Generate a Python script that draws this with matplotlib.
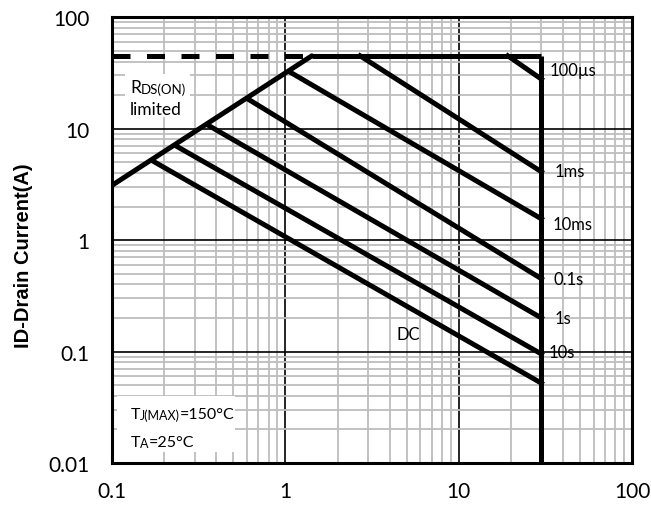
import numpy as np
import matplotlib
matplotlib.use('Agg')
import matplotlib.pyplot as plt
from matplotlib import rcParams
from matplotlib.patches import Rectangle

rcParams['font.family'] = ['Lato', 'DejaVu Sans']

# 极限值
vds_max = 30.0
id_max = 45.0

# RDS(ON) 限制线
rds_v = [0.1, 1.42]
rds_i = [3.1, 45.0]

# 各脉宽曲线: 起点(V, I) 和 终点电流(在 vds_max 处)
pulse_labels = ['100µs', '1ms', '10ms', '0.1s', '1s', '10s', 'DC']
pulse_vstart = [19.2, 2.7, 1.07, 0.61, 0.36, 0.234, 0.173]
pulse_istart = [45.0, 45.0, 32.0, 18.4, 10.7, 7.0, 5.1]
pulse_iend = [27.8, 4.1, 1.55, 0.45, 0.20, 0.095, 0.052]

# 标签位置
label_pos = [(33.2, 33.5), (35.5, 4.16), (35, 1.39), (35, 0.447),
             (35.5, 0.2), (32.8, 0.10), (4.38, 0.144)]

fig = plt.figure(figsize=(6.51, 5.06), dpi=100)
ax = fig.add_axes([0.172, 0.083, 0.799, 0.881])
ax.set_xscale('log')
ax.set_yscale('log')
ax.set_xlim(0.1, 100)
ax.set_ylim(0.01, 100)

ax.grid(True, which='minor', color='#bdbdbd', lw=1.3, zorder=0)
ax.grid(True, which='major', color='black', lw=1.2, zorder=1)
ax.set_axisbelow(True)

lw = 3.6
ax.plot([0.1, rds_v[1]], [id_max, id_max], color='black', lw=lw, dashes=(3.6, 3.3), zorder=3)
ax.plot([rds_v[1], vds_max], [id_max, id_max], color='black', lw=lw, zorder=3,
        solid_capstyle='butt')
ax.plot([vds_max, vds_max], [id_max, 0.01], color='black', lw=lw, zorder=3,
        solid_capstyle='butt')
ax.plot(rds_v, rds_i, color='black', lw=lw, zorder=3, solid_capstyle='round')

for vs, i0, i1 in zip(pulse_vstart, pulse_istart, pulse_iend):
    ax.plot([vs, vds_max], [i0, i1], color='black', lw=lw, zorder=3)

for lab, (lx, ly) in zip(pulse_labels, label_pos):
    ax.text(lx, ly, lab, fontsize=12, ha='left', va='center', zorder=4)

# 白底
ax.add_patch(Rectangle((0.025, 0.776), 0.125, 0.096, transform=ax.transAxes,
                       facecolor='white', edgecolor='none', zorder=2))
ax.add_patch(Rectangle((0.01, 0.025), 0.227, 0.125, transform=ax.transAxes,
                       facecolor='white', edgecolor='none', zorder=2))

# RDS(ON) limited 标注
t1 = ax.text(0.127, 21.5, 'R', fontsize=12.5, ha='left', va='baseline', zorder=4)
ax.annotate('DS(ON)', xy=(1, 0), xycoords=t1, fontsize=9.5, ha='left', va='bottom',
            zorder=4)
ax.text(0.127, 15.0, 'limited', fontsize=12.5, ha='left', va='center', zorder=4)

# 温度条件
t2 = ax.text(0.128, 0.0255, 'T', fontsize=11.5, ha='left', va='baseline', zorder=4)
t3 = ax.annotate('J(MAX)', xy=(1, 0), xycoords=t2, fontsize=9, ha='left', va='bottom',
                 zorder=4)
ax.annotate('=150°C', xy=(1, 0), xycoords=t3, fontsize=11.5, ha='left', va='bottom',
            zorder=4)
t4 = ax.text(0.128, 0.0143, 'T', fontsize=11.5, ha='left', va='baseline', zorder=4)
t5 = ax.annotate('A', xy=(1, 0), xycoords=t4, fontsize=9, ha='left', va='bottom',
                 zorder=4)
ax.annotate('=25°C', xy=(1, 0), xycoords=t5, fontsize=11.5, ha='left', va='bottom',
            zorder=4)

ax.set_xticks([0.1, 1, 10, 100])
ax.set_xticklabels(['0.1', '1', '10', '100'])
ax.set_yticks([0.01, 0.1, 1, 10, 100])
ax.set_yticklabels(['0.01', '0.1', '1', '10', '100'])
ax.tick_params(which='both', length=0, labelsize=15)
ax.tick_params(axis='x', pad=13)
ax.tick_params(axis='y', pad=16)

for s in ax.spines.values():
    s.set_linewidth(2.2)
    s.set_color('black')
    s.set_zorder(5)

fig.text(0.036, 0.494, 'ID-Drain Current(A)', rotation=90, ha='center', va='center',
         fontsize=14.5, fontweight='bold', family='Liberation Sans')

fig.savefig('out.png', dpi=100)
